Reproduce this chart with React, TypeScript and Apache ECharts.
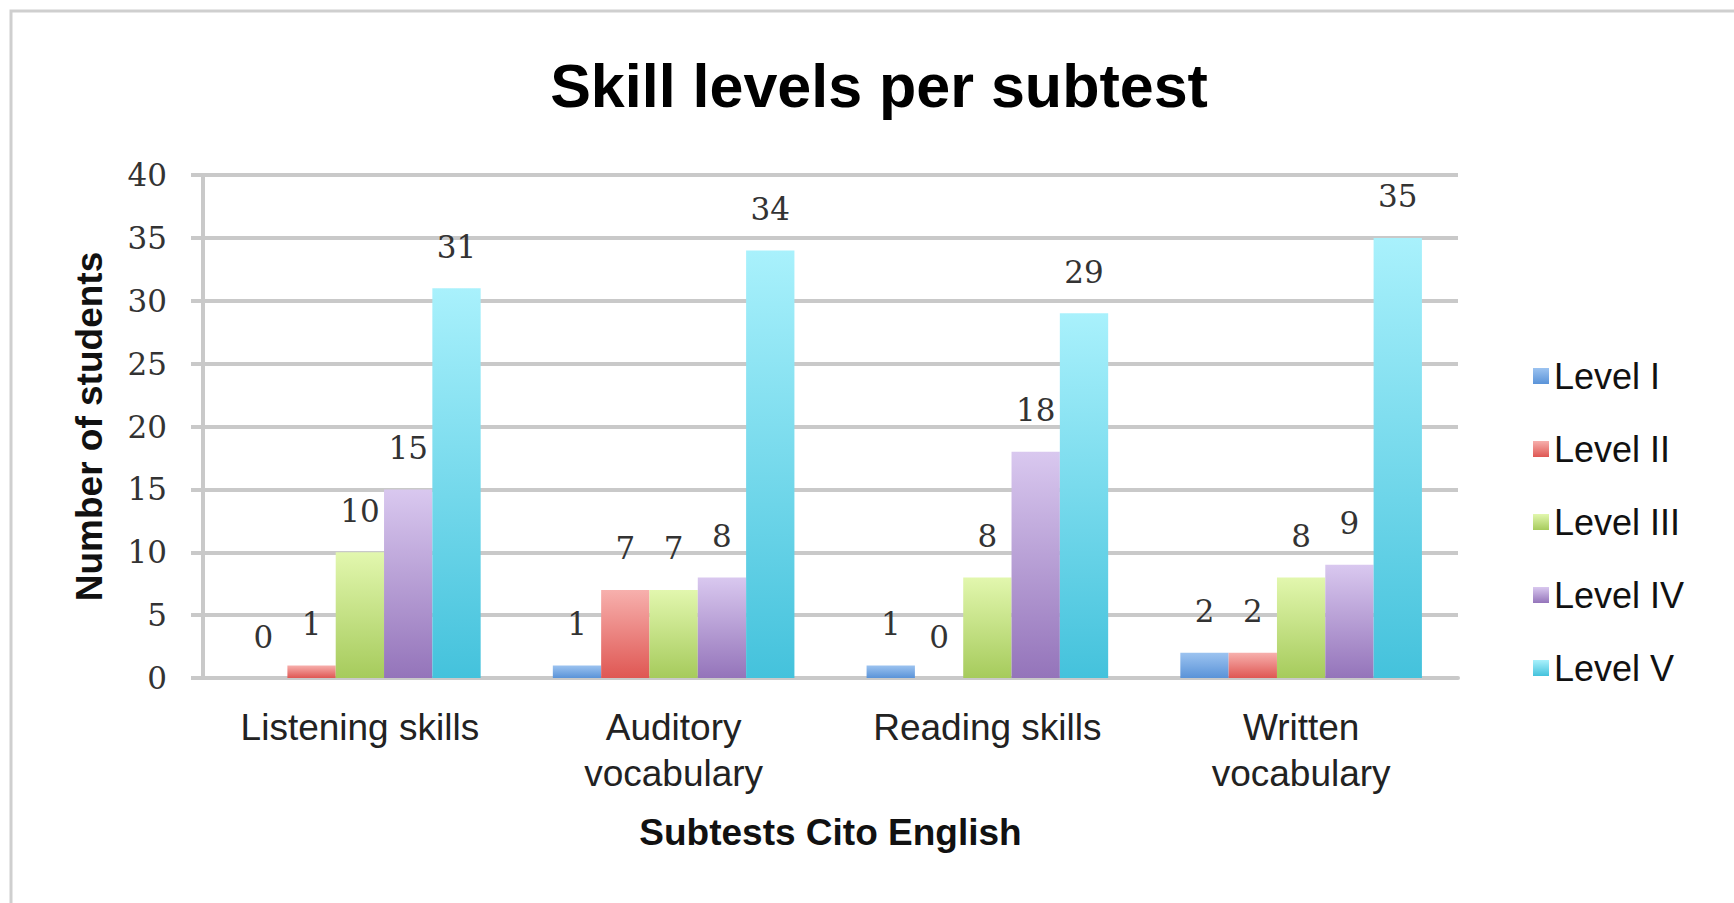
import React, { useEffect, useRef } from "react";
import * as echarts from "echarts";

const categories = ["Listening skills", "Auditory\nvocabulary", "Reading skills", "Written\nvocabulary"];
const seriesNames = ["Level I", "Level II", "Level III", "Level IV", "Level V"];
const levelI = [0, 1, 1, 2];
const levelII = [1, 7, 0, 2];
const levelIII = [10, 7, 8, 8];
const levelIV = [15, 8, 18, 9];
const levelV = [31, 34, 29, 35];
const seriesValues = [levelI, levelII, levelIII, levelIV, levelV];
const gradients: [string, string][] = [
  ["#9cc3f0", "#5a93d8"],
  ["#f7b0ad", "#df5753"],
  ["#e2f7ae", "#a6cb5c"],
  ["#d9c8ef", "#9474ba"],
  ["#a9f1fc", "#44c2dc"],
];

export default function App() {
  const ref = useRef<HTMLDivElement>(null);
  useEffect(() => {
    document.body.style.margin = "0";
    if (!ref.current) return;
    const chart = echarts.init(ref.current, null, { renderer: "svg" });
    const grey = "#c9c9c9";
    chart.setOption({
      animation: false,
      backgroundColor: "#ffffff",
      title: {
        text: "Skill levels per subtest",
        left: 874,
        textAlign: "center",
        top: 50,
        textStyle: { fontFamily: "Liberation Sans", fontWeight: "bold", fontSize: 61, color: "#000" },
      },
      graphic: [
        {
          type: "rect",
          shape: { x: 11, y: 11, width: 1800, height: 1000 },
          style: { fill: "none", stroke: "#cfcfcf", lineWidth: 3 },
          silent: true,
        },
      ],
      legend: {
        orient: "vertical",
        left: 1528,
        top: 353,
        itemWidth: 16,
        itemHeight: 16,
        itemGap: 37,
        icon: "rect",
        textStyle: { fontFamily: "Liberation Sans", fontSize: 36, color: "#111" },
        data: seriesNames,
      },
      grid: { left: 203, right: 276, top: 175, bottom: 225 },
      xAxis: {
        type: "category",
        data: categories,
        name: "Subtests Cito English",
        nameLocation: "middle",
        nameGap: 136,
        nameTextStyle: { fontFamily: "Liberation Sans", fontWeight: "bold", fontSize: 37, color: "#111" },
        axisLine: { show: true, lineStyle: { color: grey, width: 4 } },
        axisTick: { show: false },
        axisLabel: {
          fontFamily: "Liberation Sans",
          fontSize: 37,
          lineHeight: 46,
          color: "#222",
          margin: 26,
          interval: 0,
        },
      },
      yAxis: {
        type: "value",
        min: 0,
        max: 40,
        interval: 5,
        name: "Number of students",
        nameLocation: "middle",
        nameGap: 95,
        nameTextStyle: { fontFamily: "Liberation Sans", fontWeight: "bold", fontSize: 37, color: "#111" },
        axisLine: { show: true, lineStyle: { color: grey, width: 4 } },
        axisTick: { show: true, length: 12, lineStyle: { color: grey, width: 4 } },
        axisLabel: { fontFamily: "DejaVu Serif", fontSize: 31, color: "#333", margin: 36 },
        splitLine: { show: true, lineStyle: { color: grey, width: 4 } },
      },
      series: seriesNames.map((name, i) => ({
        name,
        type: "bar",
        data: seriesValues[i],
        barGap: "0%",
        barCategoryGap: "23%",
        itemStyle: {
          color: new echarts.graphic.LinearGradient(0, 0, 0, 1, [
            { offset: 0, color: gradients[i][0] },
            { offset: 1, color: gradients[i][1] },
          ]),
        },
        label: {
          show: true,
          position: "top",
          distance: 26,
          fontFamily: "DejaVu Serif",
          fontSize: 31,
          color: "#333",
        },
      })),
    });
    return () => chart.dispose();
  }, []);
  return <div ref={ref} style={{ width: 1734, height: 903 }} />;
}
